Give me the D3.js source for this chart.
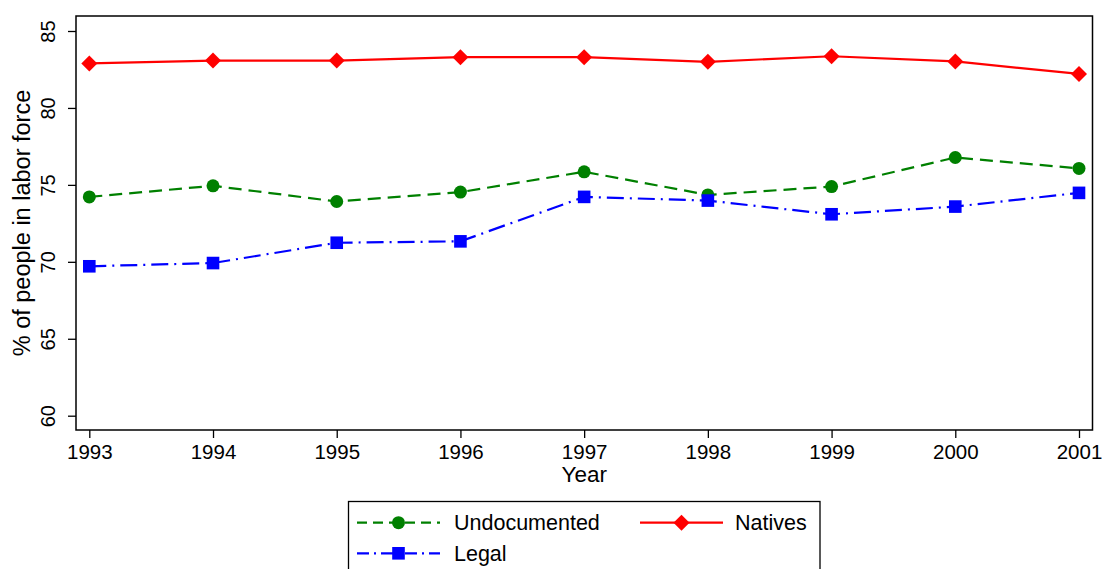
<!DOCTYPE html>
<html>
<head>
<meta charset="utf-8">
<script src="https://cdn.jsdelivr.net/npm/d3@7"></script>
<style>
  html, body { margin: 0; padding: 0; background: #fff; }
  svg { display: block; font-family: "Liberation Sans", Arial, Helvetica, sans-serif; }
</style>
</head>
<body>
<svg id="chart" width="1102" height="569"></svg>
<script>
// Labor force participation by group, 1993-2001
const years = [1993, 1994, 1995, 1996, 1997, 1998, 1999, 2000, 2001];
const undocumented = [74.22, 74.94, 73.92, 74.53, 75.85, 74.35, 74.89, 76.78, 76.07];
const legal        = [69.71, 69.92, 71.24, 71.33, 74.22, 73.98, 73.09, 73.59, 74.48];
const natives      = [82.89, 83.08, 83.08, 83.30, 83.30, 83.00, 83.36, 83.02, 82.21];
const yTicks = [60, 65, 70, 75, 80, 85];

const svg = d3.select("#chart");

const frame = { left: 76, right: 1092.5, top: 16, bottom: 430 };

const x = d3.scaleLinear().domain([1993, 2001]).range([89.3, 1079]);
const y = d3.scaleLinear().domain([60, 85]).range([415.7, 31]);

// plot region box
svg.append("rect")
  .attr("x", frame.left).attr("y", frame.top)
  .attr("width", frame.right - frame.left)
  .attr("height", frame.bottom - frame.top)
  .attr("fill", "none").attr("stroke", "#000").attr("stroke-width", 1.5);

// y axis
const yAxis = d3.axisLeft(y).tickValues(yTicks).tickSize(8).tickPadding(4);
const gy = svg.append("g").attr("transform", `translate(${frame.left},0)`).call(yAxis);
gy.select(".domain").remove();
gy.selectAll(".tick line").attr("stroke", "#000").attr("stroke-width", 1.3);
gy.selectAll(".tick text")
  .attr("font-size", 20).attr("fill", "#000")
  .attr("x", 0).attr("dy", 0)
  .attr("text-anchor", "middle")
  .attr("transform", "translate(-21,0) rotate(-90)");

// x axis
const xAxis = d3.axisBottom(x).tickValues(years).tickFormat(d3.format("d")).tickSize(8).tickPadding(6);
const gx = svg.append("g").attr("transform", `translate(0,${frame.bottom})`).call(xAxis);
gx.select(".domain").remove();
gx.selectAll(".tick line").attr("stroke", "#000").attr("stroke-width", 1.3);
gx.selectAll(".tick text").attr("font-size", 20.5).attr("fill", "#000");

// axis titles
svg.append("text")
  .attr("x", (frame.left + frame.right) / 2).attr("y", 482)
  .attr("text-anchor", "middle").attr("font-size", 22.5).attr("fill", "#000")
  .text("Year");
svg.append("text")
  .attr("transform", `translate(30,${(frame.top + frame.bottom) / 2}) rotate(-90)`)
  .attr("text-anchor", "middle").attr("font-size", 23.5).attr("fill", "#000")
  .text("% of people in labor force");

const series = [
  { name: "Undocumented", values: undocumented, color: "#008000", dash: "13,7", marker: "circle" },
  { name: "Legal", values: legal, color: "#0000ff", dash: "17,6,2,6", marker: "square" },
  { name: "Natives", values: natives, color: "#ff0000", dash: null, marker: "diamond" }
];

function drawMarker(g, kind, cx, cy, color) {
  if (kind === "circle") {
    g.append("circle").attr("cx", cx).attr("cy", cy).attr("r", 6.5).attr("fill", color);
  } else if (kind === "square") {
    g.append("rect").attr("x", cx - 6.3).attr("y", cy - 6.3).attr("width", 12.6).attr("height", 12.6).attr("fill", color);
  } else {
    const s = 8;
    g.append("path")
      .attr("d", `M${cx},${cy - s}L${cx + s},${cy}L${cx},${cy + s}L${cx - s},${cy}Z`)
      .attr("fill", color);
  }
}

const line = d3.line().x((d, i) => x(years[i])).y(d => y(d));

series.forEach(s => {
  const g = svg.append("g");
  g.append("path")
    .datum(s.values)
    .attr("d", line)
    .attr("fill", "none")
    .attr("stroke", s.color)
    .attr("stroke-width", 2.2)
    .attr("stroke-dasharray", s.dash);
  s.values.forEach((v, i) => drawMarker(g, s.marker, x(years[i]), y(v), s.color));
});

// legend
const lg = svg.append("g");
lg.append("rect")
  .attr("x", 348.5).attr("y", 501.5).attr("width", 471.5).attr("height", 80)
  .attr("fill", "#fff").attr("stroke", "#000").attr("stroke-width", 1.3);

const legendItems = [
  { s: series[0], lx: 357, ly: 522.7, tx: 454, dash: "10,6" },
  { s: series[2], lx: 640, ly: 522.7, tx: 735, dash: null },
  { s: series[1], lx: 357, ly: 553.3, tx: 454, dash: "12,5,2,5" }
];
legendItems.forEach(it => {
  const mid = it.lx + 41.5;
  lg.append("line")
    .attr("x1", it.lx).attr("x2", it.lx + 83)
    .attr("y1", it.ly).attr("y2", it.ly)
    .attr("stroke", it.s.color).attr("stroke-width", 2.2)
    .attr("stroke-dasharray", it.dash);
  drawMarker(lg, it.s.marker, mid, it.ly, it.s.color);
  lg.append("text")
    .attr("x", it.tx).attr("y", it.ly + 7.5)
    .attr("font-size", 21.5).attr("fill", "#000")
    .text(it.s.name);
});
</script>
</body>
</html>
